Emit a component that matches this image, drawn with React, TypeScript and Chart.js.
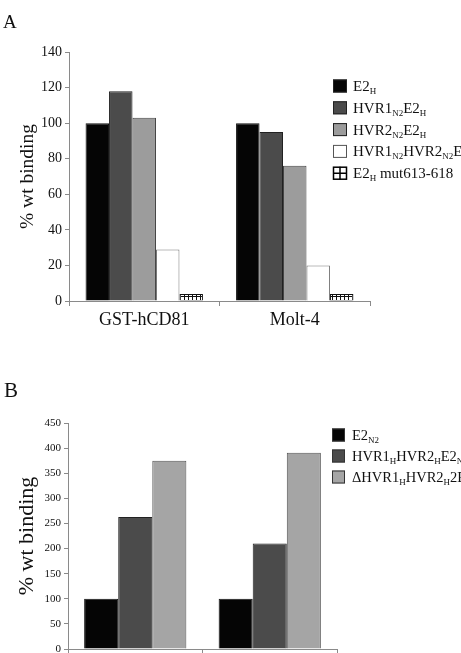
import React, { useEffect, useRef } from "react";
import { Chart, registerables } from "chart.js";

Chart.register(...registerables);

// ---------- Data: panel A ----------
const categoriesA = ["GST-hCD81", "Molt-4"];
const seriesNamesA = [
  "E2_{H}",
  "HVR1_{N2}E2_{H}",
  "HVR2_{N2}E2_{H}",
  "HVR1_{N2}HVR2_{N2}E2_{H}",
  "E2_{H} mut613-618",
];
const valuesA_E2H = [100, 100];
const valuesA_HVR1 = [118, 95];
const valuesA_HVR2 = [103, 76];
const valuesA_HVR12 = [29, 20];
const valuesA_mut = [4, 4];
const yTicksA = { min: 0, max: 140, step: 20 };

// ---------- Data: panel B ----------
const categoriesB = ["GST-hCD81", "Molt-4"];
const seriesNamesB = [
  "E2_{N2}",
  "HVR1_{H}HVR2_{H}E2_{N2}",
  "\u0394HVR1_{H}HVR2_{H}2E2_{N2}",
];
const valuesB_E2N2 = [100, 100];
const valuesB_HVR12H = [263, 210];
const valuesB_dHVR12H = [375, 391];
const yTicksB = { min: 0, max: 450, step: 50 };

const yTitle = "% wt binding";
const SERIF = "'Liberation Serif', 'Times New Roman', serif";

function parseRich(s: string) {
  const parts: { t: string; sub: boolean }[] = [];
  const re = /_\{([^}]*)\}/g;
  let last = 0;
  let m: RegExpExecArray | null;
  while ((m = re.exec(s))) {
    if (m.index > last) parts.push({ t: s.slice(last, m.index), sub: false });
    parts.push({ t: m[1], sub: true });
    last = re.lastIndex;
  }
  if (last < s.length) parts.push({ t: s.slice(last), sub: false });
  return parts;
}

const richLegend = {
  id: "richLegend",
  afterDraw(chart: any, _args: any, opts: any) {
    const ctx = chart.ctx as CanvasRenderingContext2D;
    const { x, y, gap, bw, bh, textX, size, subSize } = opts;
    chart.data.datasets.forEach((ds: any, i: number) => {
      const cy = y + i * gap;
      ctx.save();
      const bx = x;
      const by = cy - bh / 2;
      if (ds.legendHatch) {
        ctx.fillStyle = "#fff";
        ctx.fillRect(bx, by, bw, bh);
        ctx.strokeStyle = "#000";
        ctx.lineWidth = 1.5;
        ctx.strokeRect(bx + 0.5, by + 0.5, bw - 1, bh - 1);
        ctx.beginPath();
        ctx.moveTo(bx + bw / 2, by);
        ctx.lineTo(bx + bw / 2, by + bh);
        ctx.moveTo(bx, by + bh / 2);
        ctx.lineTo(bx + bw, by + bh / 2);
        ctx.stroke();
      } else {
        ctx.fillStyle = ds.legendColor;
        ctx.fillRect(bx, by, bw, bh);
        ctx.strokeStyle = ds.legendBorder;
        ctx.lineWidth = 1;
        ctx.strokeRect(bx + 0.5, by + 0.5, bw - 1, bh - 1);
      }
      ctx.fillStyle = "#111";
      ctx.textBaseline = "alphabetic";
      ctx.textAlign = "left";
      let tx = textX;
      const base = cy + size * 0.33;
      parseRich(ds.label).forEach((p) => {
        ctx.font = `${p.sub ? subSize : size}px ${SERIF}`;
        ctx.fillText(p.t, tx, p.sub ? base + 3 : base);
        tx += ctx.measureText(p.t).width;
      });
      ctx.restore();
    });
  },
};

function makePattern(): CanvasPattern | string {
  const c = document.createElement("canvas");
  c.width = 4;
  c.height = 4;
  const g = c.getContext("2d");
  if (!g) return "#fff";
  g.fillStyle = "#fff";
  g.fillRect(0, 0, 4, 4);
  g.fillStyle = "#111";
  g.fillRect(0, 0, 1, 4);
  g.fillRect(0, 0, 4, 1);
  const p = g.createPattern(c, "repeat");
  return p || "#fff";
}

function axisCommon(opts: {
  tickSize: number;
  titleSize: number;
  titlePad: number;
  yWidth: number;
  xHeight: number;
  showX: boolean;
  xSize: number;
  yt: { min: number; max: number; step: number };
}) {
  return {
    x: {
      grid: {
        display: true,
        drawOnChartArea: false,
        drawTicks: true,
        tickLength: 5,
        color: "#8a8a8a",
        offset: true,
      },
      border: { color: "#8a8a8a", width: 1 },
      ticks: {
        display: opts.showX,
        color: "#111",
        padding: 3,
        font: { family: SERIF, size: opts.xSize },
      },
      afterFit: (s: any) => {
        s.height = opts.xHeight;
      },
    },
    y: {
      min: opts.yt.min,
      max: opts.yt.max,
      grid: {
        display: true,
        drawOnChartArea: false,
        drawTicks: true,
        tickLength: 4,
        color: "#8a8a8a",
      },
      border: { color: "#8a8a8a", width: 1 },
      ticks: {
        stepSize: opts.yt.step,
        color: "#111",
        padding: 3,
        font: { family: SERIF, size: opts.tickSize },
      },
      title: {
        display: true,
        text: yTitle,
        color: "#111",
        padding: { top: opts.titlePad, bottom: 0 },
        font: { family: SERIF, size: opts.titleSize, weight: "normal" },
      },
      afterFit: (s: any) => {
        s.width = opts.yWidth;
      },
    },
  };
}

function PanelA() {
  const ref = useRef<HTMLCanvasElement | null>(null);
  useEffect(() => {
    if (!ref.current) return;
    const hatch = makePattern();
    const colors = ["#050505", "#4b4b4b", "#9c9c9c", "#ffffff", hatch];
    const borders = ["#111", "#222", "#444", "#777", "#111"];
    const legendColors = ["#050505", "#4b4b4b", "#9c9c9c", "#ffffff", "#ffffff"];
    const vals = [valuesA_E2H, valuesA_HVR1, valuesA_HVR2, valuesA_HVR12, valuesA_mut];
    const chart = new Chart(ref.current, {
      type: "bar",
      data: {
        labels: categoriesA,
        datasets: seriesNamesA.map((name, i) => ({
          label: name,
          data: vals[i],
          backgroundColor: colors[i] as any,
          borderColor: borders[i],
          borderWidth: 1,
          categoryPercentage: 0.78,
          barPercentage: 1,
          legendColor: legendColors[i],
          legendBorder: i === 3 ? "#555" : "#222",
          legendHatch: i === 4,
        })) as any,
      },
      options: {
        animation: false,
        responsive: false,
        maintainAspectRatio: false,
        layout: { padding: { top: 52, right: 91, left: 0, bottom: 0 } },
        plugins: {
          legend: { display: false },
          tooltip: { enabled: false },
          richLegend: {
            x: 333,
            y: 86,
            gap: 21.8,
            bw: 14,
            bh: 13,
            textX: 353,
            size: 15,
            subSize: 9,
          },
        } as any,
        scales: axisCommon({
          tickSize: 14,
          titleSize: 19.5,
          titlePad: 16,
          yWidth: 69,
          xHeight: 29,
          showX: true,
          xSize: 18,
          yt: yTicksA,
        }) as any,
      },
      plugins: [richLegend as any],
    });
    return () => chart.destroy();
  }, []);
  return (
    <canvas
      ref={ref}
      width={461}
      height={330}
      style={{ position: "absolute", left: 0, top: 0, width: 461, height: 330 }}
    />
  );
}

function PanelB() {
  const ref = useRef<HTMLCanvasElement | null>(null);
  useEffect(() => {
    if (!ref.current) return;
    const colors = ["#050505", "#4b4b4b", "#a5a5a5"];
    const borders = ["#111", "#222", "#555"];
    const vals = [valuesB_E2N2, valuesB_HVR12H, valuesB_dHVR12H];
    const chart = new Chart(ref.current, {
      type: "bar",
      data: {
        labels: categoriesB,
        datasets: seriesNamesB.map((name, i) => ({
          label: name,
          data: vals[i],
          backgroundColor: colors[i],
          borderColor: borders[i],
          borderWidth: 1,
          categoryPercentage: 0.76,
          barPercentage: 1,
          legendColor: colors[i],
          legendBorder: "#333",
          legendHatch: false,
        })) as any,
      },
      options: {
        animation: false,
        responsive: false,
        maintainAspectRatio: false,
        layout: { padding: { top: 93, right: 124, left: 0, bottom: 0 } },
        plugins: {
          legend: { display: false },
          tooltip: { enabled: false },
          richLegend: {
            x: 332,
            y: 105,
            gap: 21,
            bw: 13,
            bh: 13,
            textX: 352,
            size: 14.5,
            subSize: 9,
          },
        } as any,
        scales: axisCommon({
          tickSize: 11,
          titleSize: 22,
          titlePad: 14,
          yWidth: 68,
          xHeight: 31,
          showX: false,
          xSize: 17,
          yt: yTicksB,
        }) as any,
      },
      plugins: [richLegend as any],
    });
    return () => chart.destroy();
  }, []);
  return (
    <canvas
      ref={ref}
      width={461}
      height={350}
      style={{ position: "absolute", left: 0, top: 330, width: 461, height: 350 }}
    />
  );
}

export default function App() {
  return (
    <div
      style={{
        position: "fixed",
        left: 0,
        top: 0,
        width: 461,
        height: 653,
        overflow: "hidden",
        background: "#fff",
      }}
    >
      <PanelA />
      <PanelB />
      <div
        style={{
          position: "absolute",
          left: 3,
          top: 12,
          fontFamily: SERIF,
          fontSize: 19,
          lineHeight: 1,
          color: "#111",
        }}
      >
        A
      </div>
      <div
        style={{
          position: "absolute",
          left: 4,
          top: 380,
          fontFamily: SERIF,
          fontSize: 21,
          lineHeight: 1,
          color: "#111",
        }}
      >
        B
      </div>
    </div>
  );
}
